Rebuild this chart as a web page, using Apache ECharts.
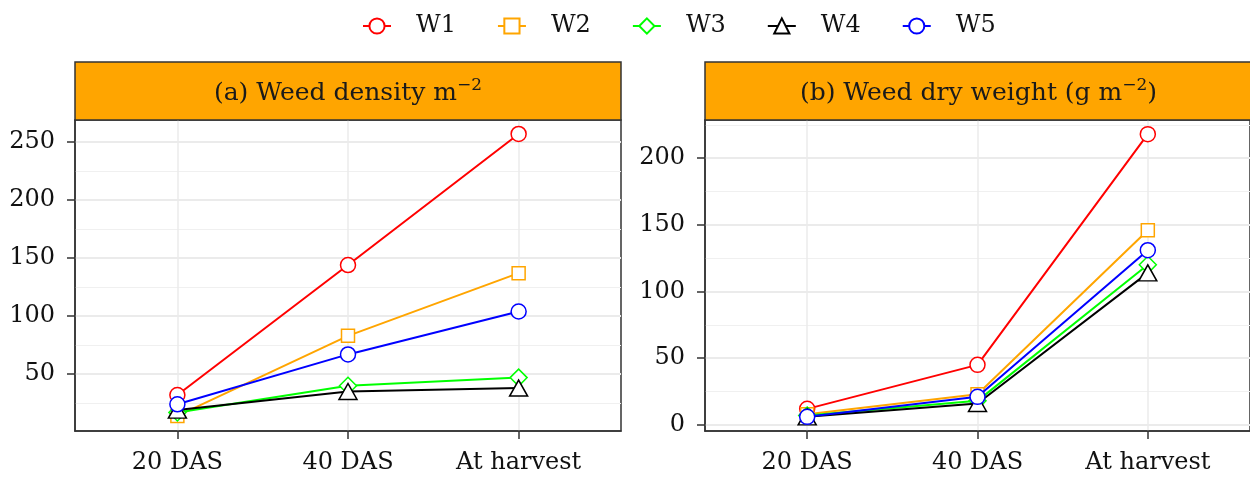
<!DOCTYPE html>
<html>
<head>
<meta charset="utf-8">
<script src="https://cdn.jsdelivr.net/npm/echarts@6/dist/echarts.min.js"></script>
<style>html,body{margin:0;padding:0;background:#fff}#c{width:1250px;height:480px}</style>
</head>
<body>
<div id="c"></div>
<script>
// ---- data ----
const categories = ['20 DAS', '40 DAS', 'At harvest'];
const seriesNames = ['W1', 'W2', 'W3', 'W4', 'W5'];
// (a) Weed density m^-2
const densityW1 = [32, 144, 257];
const densityW2 = [14, 83, 137];
const densityW3 = [17, 40, 47];
const densityW4 = [19, 35, 38];
const densityW5 = [24, 67, 104];
// (b) Weed dry weight (g m^-2)
const dryW1 = [12, 45, 218];
const dryW2 = [8, 23, 146];
const dryW3 = [7, 18, 120];
const dryW4 = [6, 16, 114];
const dryW5 = [6, 21, 131];
const leftMajorTicks = [50, 100, 150, 200, 250];
const leftMinorTicks = [25, 75, 125, 175, 225];
const rightMajorTicks = [0, 50, 100, 150, 200];
const rightMinorTicks = [25, 75, 125, 175, 225];
const panelTitles = [
  '{a|(a) Weed density m}{s|−2}',
  '{a|(b) Weed dry weight (g m}{s|−2}{a|)}'
];

// ---- style ----
const colors = ['#FF0000', '#FFA500', '#00FF00', '#000000', '#0000FF'];
const symbols = ['circle', 'rect', 'diamond', 'triangle', 'circle'];
const symbolSizes = [15, 13, 17, [18, 16], 15];
const FONT = 'DejaVu Serif';
const TXT = '#111111';
const panels = [
  { left: 75, top: 120, width: 546, height: 311 },
  { left: 705, top: 120, width: 547, height: 311 }
];
const stripTop = 62;

const densityData = [densityW1, densityW2, densityW3, densityW4, densityW5];
const dryData = [dryW1, dryW2, dryW3, dryW4, dryW5];

function xAxisFor(i) {
  return {
    type: 'value', gridIndex: i, min: 0.4, max: 3.6,
    axisLine: { show: true, onZero: false, lineStyle: { color: '#333', width: 1.5 } },
    axisTick: { show: true, length: 8, customValues: [1, 2, 3], lineStyle: { color: '#333', width: 1.5 } },
    axisLabel: {
      customValues: [1, 2, 3], margin: 20,
      formatter: v => categories[Math.round(v) - 1] || '',
      fontFamily: FONT, fontSize: 24, color: TXT
    },
    splitLine: { show: true, lineStyle: { color: '#ebebeb', width: 1.5 } }
  };
}
function yAxisFor(i, min, max, major) {
  return {
    type: 'value', gridIndex: i, min: min, max: max,
    axisLine: { show: true, onZero: false, lineStyle: { color: '#333', width: 1.5 } },
    axisTick: { show: true, length: 8, customValues: major, lineStyle: { color: '#333', width: 1.5 } },
    axisLabel: { customValues: major, margin: 20, fontFamily: FONT, fontSize: 24, color: TXT },
    splitLine: { show: true, lineStyle: { color: '#ebebeb', width: 1.8 } },
    z: 1
  };
}
function yMinorFor(i, min, max, minor) {
  return {
    type: 'value', gridIndex: i, min: min, max: max,
    axisLine: { show: false }, axisLabel: { show: false },
    axisTick: { show: false, customValues: minor },
    splitLine: { show: true, lineStyle: { color: '#f0f0f0', width: 1.2 } },
    z: 0
  };
}

const series = [];
[densityData, dryData].forEach((panelData, p) => {
  panelData.forEach((vals, k) => {
    series.push({
      type: 'line', name: seriesNames[k],
      xAxisIndex: p, yAxisIndex: p * 2,
      data: vals.map((v, i) => [i + 1, v]),
      symbol: symbols[k], symbolSize: symbolSizes[k],
      showAllSymbol: true,
      lineStyle: { color: colors[k], width: 2 },
      itemStyle: { color: '#ffffff', borderColor: colors[k], borderWidth: 1.5 },
      emphasis: { disabled: true },
      z: 3 + k
    });
  });
});

const graphics = [];
panels.forEach((g, i) => {
  graphics.push({
    type: 'rect', z: 10,
    shape: { x: g.left, y: stripTop, width: g.width, height: g.top - stripTop },
    style: { fill: '#FFA500', stroke: '#333', lineWidth: 1.5 }
  });
  graphics.push({
    type: 'text', z: 11,
    style: {
      x: g.left + g.width / 2, y: (stripTop + g.top) / 2 + 2,
      align: 'center', verticalAlign: 'middle',
      text: panelTitles[i],
      rich: {
        a: { fontFamily: FONT, fontSize: 25, fill: '#1a1a1a', lineHeight: 30 },
        s: { fontFamily: FONT, fontSize: 17, fill: '#1a1a1a', lineHeight: 30, padding: [0, 0, 14, 0] }
      }
    }
  });
});

const chart = echarts.init(document.getElementById('c'));
chart.setOption({
  animation: false,
  backgroundColor: '#ffffff',
  legend: {
    left: 357, top: 9,
    itemWidth: 28, itemHeight: 19, itemGap: 41,
    selectedMode: false,
    textStyle: { fontFamily: FONT, fontSize: 24, color: TXT, padding: [0, 0, 0, 20] },
    data: seriesNames
  },
  grid: panels.map(g => ({
    left: g.left, top: g.top, width: g.width, height: g.height,
    show: true, borderColor: '#333', borderWidth: 1.5, backgroundColor: 'transparent'
  })),
  xAxis: [xAxisFor(0), xAxisFor(1)],
  yAxis: [
    yAxisFor(0, 1, 269, leftMajorTicks),
    yMinorFor(0, 1, 269, leftMinorTicks),
    yAxisFor(1, -4.6, 228.6, rightMajorTicks),
    yMinorFor(1, -4.6, 228.6, rightMinorTicks)
  ],
  series: series,
  graphic: graphics
});
</script>
</body>
</html>
